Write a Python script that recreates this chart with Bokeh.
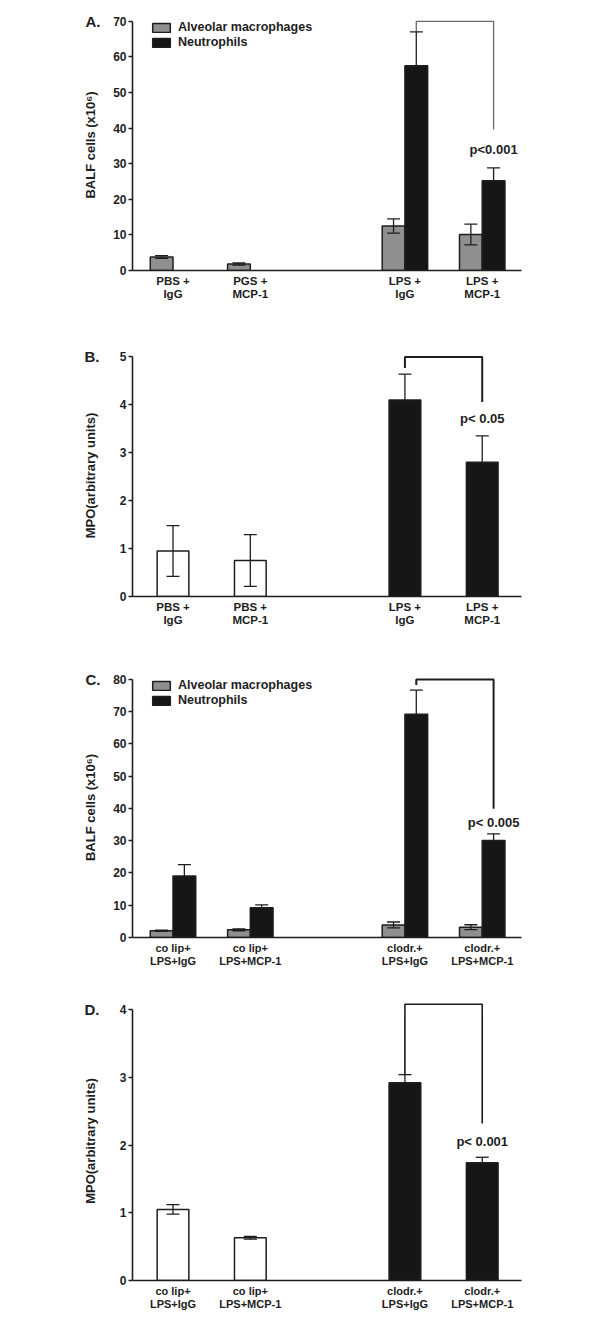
import numpy as np
from bokeh.plotting import figure
from bokeh.layouts import column
from bokeh.models import (ColumnDataSource, Range1d, FixedTicker, Whisker, TeeHead,
                          Label, Legend, LegendItem, LinearAxis)
from bokeh.embed import file_html
from bokeh.resources import INLINE

# ---------------- data ----------------
positions = [0, 1, 3, 4]
labels_A = ["PBS +\nIgG", "PGS +\nMCP-1", "LPS +\nIgG", "LPS +\nMCP-1"]
labels_B = ["PBS +\nIgG", "PBS +\nMCP-1", "LPS +\nIgG", "LPS +\nMCP-1"]
labels_CD = ["co lip+\nLPS+IgG", "co lip+\nLPS+MCP-1", "clodr.+\nLPS+IgG", "clodr.+\nLPS+MCP-1"]

A_mac = [3.8, 1.8, 12.5, 10.1]
A_mac_err = [0.4, 0.3, 2.0, 2.9]
A_neu = [0.0, 0.0, 57.5, 25.2]
A_neu_err = [0.0, 0.0, 9.5, 3.6]

B_mpo = [0.95, 0.75, 4.10, 2.80]
B_err = [0.53, 0.54, 0.54, 0.55]

C_mac = [2.1, 2.4, 3.9, 3.2]
C_mac_err = [0.2, 0.3, 0.9, 0.75]
C_neu = [19.1, 9.2, 69.2, 30.1]
C_neu_err = [3.5, 0.9, 7.5, 2.0]

D_mpo = [1.05, 0.63, 2.92, 1.74]
D_err = [0.07, 0.02, 0.12, 0.08]

A_yticks = [0, 10, 20, 30, 40, 50, 60, 70]
B_yticks = [0, 1, 2, 3, 4, 5]
C_yticks = [0, 10, 20, 30, 40, 50, 60, 70, 80]
D_yticks = [0, 1, 2, 3, 4]

series_names = ["Alveolar macrophages", "Neutrophils"]

# brackets: (top, left leg end, right leg end, p-text, p-text y)
A_bracket = (70, 67.0, 39.6, "p<0.001", 34.0)
B_bracket = (5, 4.77, 4.06, "p< 0.05", 3.71)
C_bracket = (80, 78.3, 39.9, "p< 0.005", 35.6)
D_bracket = (4.08, 3.05, 2.32, "p< 0.001", 2.06)

# ---------------- style ----------------
FONT = "Liberation Sans"
TXT = "#1e1e1e"
GRAY = "#8f8f8f"
BLACK = "#161616"
X_START, X_END = -0.524, 4.508
PAIR_OFF = 0.147
PAIR_W = 0.294
SINGLE_W = 0.41


def base_fig(height, bt, bb, yend, yticks, ylabel, standoff, xlabels, xsize, letter,
             letter_shift):
    p = figure(width=592, height=height, output_backend="svg", toolbar_location=None,
               x_range=Range1d(X_START, X_END), y_range=Range1d(0, yend),
               min_border_left=132, min_border_right=71, min_border_top=bt,
               min_border_bottom=bb)
    p.outline_line_color = None
    p.grid.visible = False
    p.background_fill_color = "white"
    ya = p.yaxis[0]
    ya.ticker = FixedTicker(ticks=yticks)
    ya.bounds = (yticks[0], yticks[-1])
    ya.axis_label = ylabel
    ya.axis_label_text_font = FONT
    ya.axis_label_text_font_style = "bold"
    ya.axis_label_text_font_size = "13px"
    ya.axis_label_text_color = TXT
    ya.axis_label_standoff = standoff
    ya.major_label_text_font = FONT
    ya.major_label_text_font_style = "bold"
    ya.major_label_text_font_size = "12px"
    ya.major_label_text_color = TXT
    ya.major_label_standoff = 2
    ya.major_tick_in = 0
    ya.major_tick_out = 4
    ya.major_tick_line_width = 1.5
    ya.major_tick_line_color = TXT
    ya.minor_tick_line_color = None
    ya.axis_line_width = 1.6
    ya.axis_line_color = TXT

    xa = p.xaxis[0]
    xa.ticker = FixedTicker(ticks=positions)
    xa.major_label_overrides = {x: t for x, t in zip(positions, xlabels)}
    xa.major_label_text_font = FONT
    xa.major_label_text_font_style = "bold"
    xa.major_label_text_font_size = xsize
    xa.major_label_text_color = TXT
    xa.major_label_text_line_height = 1.1
    xa.major_label_standoff = 4
    xa.major_tick_in = 0
    xa.major_tick_out = 0
    xa.axis_line_width = 1.6
    xa.axis_line_color = TXT
    xa.major_tick_line_color = None
    xa.minor_tick_line_color = None

    # panel letter, as an extra outer axis carrying one label at the top tick
    la = LinearAxis(ticker=FixedTicker(ticks=[yticks[-1]]),
                    major_label_overrides={yticks[-1]: letter})
    la.axis_line_color = None
    la.major_tick_line_color = None
    la.major_tick_in = 0
    la.major_tick_out = 0
    la.minor_tick_line_color = None
    la.major_label_text_font = FONT
    la.major_label_text_font_style = "bold"
    la.major_label_text_font_size = "15px"
    la.major_label_text_color = TXT
    la.major_label_standoff = letter_shift
    p.add_layout(la, "left")
    return p


def add_whiskers(p, xs, vals, errs, two_sided):
    xs2, up, lo = [], [], []
    for x, v, e, t in zip(xs, vals, errs, two_sided):
        if v > 0 and e > 0 and t:
            xs2.append(x); up.append(v + e); lo.append(v - e)
    src = ColumnDataSource(dict(x=xs2, upper=up, lower=lo))
    p.add_layout(Whisker(source=src, base="x", upper="upper", lower="lower",
                         line_color=TXT, line_width=1.3, level="overlay",
                         upper_head=TeeHead(size=13, line_width=1.3, line_color=TXT),
                         lower_head=TeeHead(size=13, line_width=1.3, line_color=TXT)))
    xs3, up3, lo3 = [], [], []
    for x, v, e, t in zip(xs, vals, errs, two_sided):
        if v > 0 and e > 0 and not t:
            xs3.append(x); up3.append(v + e); lo3.append(v)
    src3 = ColumnDataSource(dict(x=xs3, upper=up3, lower=lo3))
    p.add_layout(Whisker(source=src3, base="x", upper="upper", lower="lower",
                         line_color=TXT, line_width=1.3, level="overlay",
                         upper_head=TeeHead(size=13, line_width=1.3, line_color=TXT),
                         lower_head=None))


def add_bracket(p, xl, xr, br, color, width):
    top, lend, rend, ptxt, py = br
    p.line([xl, xl, xr, xr], [lend, top, top, rend], line_color=color, line_width=width)
    p.add_layout(Label(x=xr, y=py, text=ptxt, text_align="center", text_baseline="middle",
                       text_font=FONT, text_font_style="bold", text_font_size="13px",
                       text_color=TXT))


def paired_panel(letter, height, bt, bb, yend, yticks, labels, mac, mac_err, neu, neu_err,
                 bracket, bcolor, bwidth, lsize):
    p = base_fig(height, bt, bb, yend, yticks, "BALF cells (x10\u2076)", 12, labels, lsize,
                 letter, -20)
    xm = [x - PAIR_OFF for x in positions]
    xn = [x + PAIR_OFF for x in positions]
    sm = ColumnDataSource(dict(x=[a for a, v in zip(xm, mac) if v > 0], top=[v for v in mac if v > 0]))
    sn = ColumnDataSource(dict(x=[a for a, v in zip(xn, neu) if v > 0], top=[v for v in neu if v > 0]))
    rm = p.vbar(x="x", top="top", width=PAIR_W, source=sm, fill_color=GRAY,
                line_color=TXT, line_width=1.5)
    rn = p.vbar(x="x", top="top", width=PAIR_W, source=sn, fill_color=BLACK,
                line_color=TXT, line_width=1.5)
    add_whiskers(p, xm, mac, mac_err, [True] * 4)
    add_whiskers(p, xn, neu, neu_err, [False] * 4)
    add_bracket(p, xn[2], xn[3], bracket, bcolor, bwidth)
    fh = height - bt - bb
    leg = Legend(items=[LegendItem(label=series_names[0], renderers=[rm]),
                        LegendItem(label=series_names[1], renderers=[rn])],
                 location=(18, fh - 30), padding=0, margin=0, spacing=1,
                 glyph_width=22, glyph_height=11, label_height=14, label_standoff=6,
                 label_text_font=FONT, label_text_font_style="bold",
                 label_text_font_size="12.5px", label_text_color=TXT,
                 border_line_color=None, background_fill_alpha=0)
    p.add_layout(leg)
    return p


def single_panel(letter, height, bt, bb, yend, yticks, labels, vals, errs, bracket,
                 bcolor, bwidth, lsize):
    p = base_fig(height, bt, bb, yend, yticks, "MPO(arbitrary units)", 19, labels, lsize,
                 letter, -20)
    colors = ["white", "white", BLACK, BLACK]
    src = ColumnDataSource(dict(x=positions, top=vals, c=colors))
    p.vbar(x="x", top="top", width=SINGLE_W, source=src, fill_color="c",
           line_color=TXT, line_width=1.5)
    add_whiskers(p, positions, vals, errs, [c == "white" for c in colors])
    add_bracket(p, positions[2], positions[3], bracket, bcolor, bwidth)
    return p


pA = paired_panel("A.", 322, 19, 52, 70.5, A_yticks, labels_A, A_mac, A_mac_err,
                  A_neu, A_neu_err, A_bracket, "#6a6a6a", 1.3, "11.5px")
pB = single_panel("B.", 320, 32, 46, 5.05, B_yticks, labels_B, B_mpo, B_err, B_bracket,
                  TXT, 2, "11.5px")
pC = paired_panel("C.", 338, 35, 43, 80.6, C_yticks, labels_CD, C_mac, C_mac_err,
                  C_neu, C_neu_err, C_bracket, TXT, 2, "11px")
pD = single_panel("D.", 342, 21, 42, 4.12, D_yticks, labels_CD, D_mpo, D_err, D_bracket,
                  TXT, 1.6, "11px")

layout = column(pA, pB, pC, pD, spacing=0)
open("out.html", "w").write(file_html(layout, INLINE))
